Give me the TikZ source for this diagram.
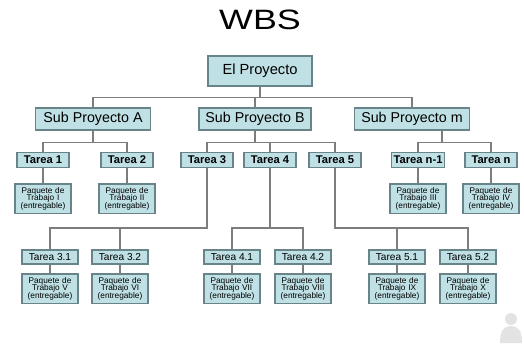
\documentclass[tikz,border=0pt]{standalone}
\usepackage{fontspec}
\setmainfont{Liberation Sans}
\usetikzlibrary{positioning}
\definecolor{boxfill}{RGB}{191,224,228}
\definecolor{boxline}{RGB}{104,132,137}
\definecolor{linkgray}{RGB}{125,125,125}
\tikzstyle{proyecto} = [rectangle, minimum width=78pt, minimum height=22.5pt, text centered, draw=boxline, line width=1.1pt, fill=boxfill, font=\fontsize{11}{13}\selectfont]
\tikzstyle{subproyecto} = [rectangle, minimum width=86pt, minimum height=16.5pt, text centered, draw=boxline, line width=1.1pt, fill=boxfill, font=\fontsize{10.7}{12}\selectfont]
\tikzstyle{tarea} = [rectangle, inner sep=1.5pt, minimum width=39pt, minimum height=11pt, text centered, draw=boxline, line width=1.1pt, fill=boxfill, font=\bfseries\fontsize{8.4}{10}\selectfont]
\tikzstyle{subtarea} = [rectangle, inner sep=1.5pt, minimum width=42pt, minimum height=10.5pt, text centered, draw=boxline, line width=1.1pt, fill=boxfill, font=\fontsize{7.6}{9}\selectfont]
\tikzstyle{paquete} = [rectangle, inner sep=1pt, minimum height=22pt, text width=40pt, align=center, draw=boxline, line width=1.1pt, fill=boxfill, font=\fontsize{6.2}{5.8}\selectfont]
\tikzstyle{link} = [draw=linkgray, line width=0.9pt]

\begin{document}
\begin{tikzpicture}[x=0.75pt, y=-0.75pt]

\useasboundingbox [fill=white] (0,0) rectangle (524,343);

% Titulo

	\node (titulo) [font=\fontsize{21}{24}\selectfont, xscale=1.28] at (260,20) {WBS};


% Proyecto y sub proyectos

	\node (proy) [proyecto] at (260,71) {El Proyecto};

	\node (subA) [subproyecto] at (93,119) {Sub Proyecto A};
	\node (subB) [subproyecto, minimum width=84pt] at (255,119) {Sub Proyecto B};
	\node (subM) [subproyecto] at (412,119) {Sub Proyecto m};


% Tareas

	\node (t1) [tarea] at (43,160) {Tarea 1};
	\node (t2) [tarea] at (127,160) {Tarea 2};
	\node (t3) [tarea] at (207,160) {Tarea 3};
	\node (t4) [tarea] at (270,160) {Tarea 4};
	\node (t5) [tarea] at (335,160) {Tarea 5};
	\node (tn1) [tarea] at (418,160) {Tarea n-1};
	\node (tn) [tarea] at (491,160) {Tarea n};


% Sub tareas

	\node (t31) [subtarea] at (50,257) {Tarea 3.1};
	\node (t32) [subtarea] at (120,257) {Tarea 3.2};
	\node (t41) [subtarea] at (232,257) {Tarea 4.1};
	\node (t42) [subtarea] at (303,257) {Tarea 4.2};
	\node (t51) [subtarea] at (397,257) {Tarea 5.1};
	\node (t52) [subtarea] at (468,257) {Tarea 5.2};


% Paquetes de trabajo

	\node (pI) [paquete, below=11.5pt of t1] {Paquete de\\Trabajo I\\(entregable)};
	\node (pII) [paquete, below=11.5pt of t2] {Paquete de\\Trabajo II\\(entregable)};
	\node (pIII) [paquete, below=11.5pt of tn1] {Paquete de\\Trabajo III\\(entregable)};
	\node (pIV) [paquete, below=11.5pt of tn] {Paquete de\\Trabajo IV\\(entregable)};

	\node (pV) [paquete, below=6.5pt of t31] {Paquete de\\Trabajo V\\(entregable)};
	\node (pVI) [paquete, below=6.5pt of t32] {Paquete de\\Trabajo VI\\(entregable)};
	\node (pVII) [paquete, below=6.5pt of t41] {Paquete de\\Trabajo VII\\(entregable)};
	\node (pVIII) [paquete, below=6.5pt of t42] {Paquete de\\Trabajo VIII\\(entregable)};
	\node (pIX) [paquete, below=6.5pt of t51] {Paquete de\\Trabajo IX\\(entregable)};
	\node (pX) [paquete, below=6.5pt of t52] {Paquete de\\Trabajo X\\(entregable)};




% El proyecto a sub proyectos
	\draw [link] (proy.south) -- ++(0,11) -| (subA.north);
	\draw [link] (proy.south) -- ++(0,11) -| (subB.north);
	\draw [link] (proy.south) -- ++(0,11) -| (subM.north);


% Sub proyecto A
	\draw [link] (subA.south) -- ++(0,12) -| (t1.north);
	\draw [link] (subA.south) -- ++(0,12) -| (t2.north);

% Sub proyecto B
	\draw [link] (subB.south) -- ++(0,12) -| (t3.north);
	\draw [link] (subB.south) -- ++(0,12) -| (t4.north);
	\draw [link] (subB.south) -- ++(0,12) -| (t5.north);

% Sub proyecto m
	\draw [link] ([xshift=22.5pt]subM.south) -- ++(0,12) -| (tn1.north);
	\draw [link] ([xshift=22.5pt]subM.south) -- ++(0,12) -| (tn.north);


% Tareas a sub tareas
	\draw [link] (t3.south) -- ++(0,60) -| (t31.north);
	\draw [link] (t3.south) -- ++(0,60) -| (t32.north);

	\draw [link] (t4.south) -- ++(0,60) -| (t41.north);
	\draw [link] (t4.south) -- ++(0,60) -| (t42.north);

	\draw [link] (t5.south) -- ++(0,60) -| (t51.north);
	\draw [link] (t5.south) -- ++(0,60) -| (t52.north);


% Paquetes
	\draw [link] (t1) -- (pI);
	\draw [link] (t2) -- (pII);
	\draw [link] (tn1) -- (pIII);
	\draw [link] (tn) -- (pIV);

	\draw [link] (t31) -- (pV);
	\draw [link] (t32) -- (pVI);
	\draw [link] (t41) -- (pVII);
	\draw [link] (t42) -- (pVIII);
	\draw [link] (t51) -- (pIX);
	\draw [link] (t52) -- (pX);


% Icono
	\fill [gray!22] (511,319) circle (6);
	\fill [gray!22] (500,343) .. controls (500,330) and (504,326) .. (511,326) .. controls (518,326) and (522,330) .. (522,343) -- cycle;

\end{tikzpicture}
\end{document}
